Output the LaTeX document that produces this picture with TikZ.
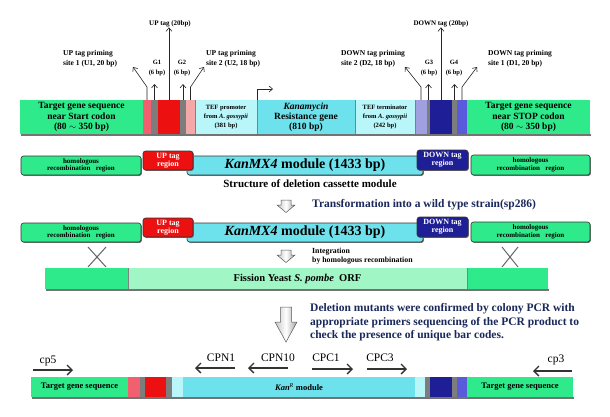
\documentclass[tikz,border=0pt]{standalone}
\usepackage{fontspec}
\setmainfont{Liberation Serif}
\usetikzlibrary{arrows.meta,shadows}
\definecolor{tgreen}{RGB}{46,234,138}
\definecolor{lgreen}{RGB}{160,246,196}
\definecolor{lred}{RGB}{240,96,110}
\definecolor{tred}{RGB}{236,16,16}
\definecolor{lpink}{RGB}{245,168,168}
\definecolor{lcyan}{RGB}{184,246,250}
\definecolor{tcyan}{RGB}{110,226,236}
\definecolor{lavender}{RGB}{160,160,224}
\definecolor{navy}{RGB}{30,30,150}
\definecolor{mblue}{RGB}{90,90,220}
\definecolor{stripe}{RGB}{125,125,125}
\definecolor{notecol}{RGB}{26,40,90}
\begin{document}
\begin{tikzpicture}[x=1pt,y=-1pt,
  seg/.style={inner sep=0pt, outer sep=0pt, anchor=north west, align=center},
  tlab/.style={inner sep=0pt, anchor=west, align=left, font=\fontsize{7.5}{10}\selectfont\bfseries},
  glab/.style={inner sep=0pt, align=center, font=\fontsize{6.5}{10}\selectfont\bfseries},
  tarrow/.style={draw=black!85, line width=0.6pt, -{Straight Barb[length=3.5pt,width=6pt]}},
  hbox/.style={draw=black!80, rounded corners=2.5pt, line width=0.6pt, inner sep=0pt, outer sep=0pt,
     anchor=north west, align=center, drop shadow={shadow xshift=0.9pt, shadow yshift=-0.9pt, fill=black!55, opacity=1}},
  hfont/.style={font=\fontsize{7}{7.5}\selectfont\bfseries},
  tagfont/.style={font=\fontsize{8}{8}\selectfont\bfseries, text=white},
  kanfont/.style={font=\fontsize{14}{14}\selectfont\bfseries},
  hollow/.style={draw=gray!70!black, line width=0.5pt, left color=gray!45, right color=gray!75, middle color=white},
  primer/.style={draw=black!80, line width=1.3pt, -{Straight Barb[length=5pt,width=10pt,line width=1.3pt]}},
  plab/.style={inner sep=0pt, font=\fontsize{11.5}{12}\selectfont},
  note/.style={inner sep=0pt, text=notecol, font=\fontsize{11.5}{13.5}\selectfont\bfseries, align=left},
  barfont/.style={font=\fontsize{9.5}{10.5}\selectfont\bfseries},
  teffont/.style={font=\fontsize{6.5}{9}\selectfont\bfseries},
  bfont/.style={font=\fontsize{8.5}{9}\selectfont\bfseries}
]
\useasboundingbox (0,0) rectangle (610,416);
\fill[white] (0,0) rectangle (610,416);

% ---------------- top bar ----------------
\fill[black!55] (21,134) rectangle (591,136);
\node[seg, fill=tgreen, minimum width=123, minimum height=34, barfont] (a1) at (20,100) {Target gene sequence\\near Start codon\\(80 $\sim$ 350 bp)};
\node[seg, fill=lred, minimum width=8, minimum height=34] (a2) at (143,100) {};
\node[seg, fill=stripe, minimum width=7, minimum height=34] (a3) at (151,100) {};
\node[seg, fill=tred, minimum width=22, minimum height=34] (a4) at (158,100) {};
\node[seg, fill=stripe, minimum width=6, minimum height=34] (a5) at (180,100) {};
\node[seg, fill=lpink, minimum width=9, minimum height=34] (a6) at (186,100) {};
\node[seg, fill=lcyan, minimum width=62, minimum height=34, teffont] (a7) at (195,100) {TEF promoter\\from \textit{A. gossypii}\\(381 bp)};
\node[seg, fill=tcyan, minimum width=98, minimum height=34, font=\fontsize{9.5}{10}\selectfont\bfseries] (a8) at (257,100) {\textit{Kanamycin}\\Resistance gene\\(810 bp)};
\node[seg, fill=lcyan, minimum width=60, minimum height=34, teffont] (a9) at (355,100) {TEF terminator\\from \textit{A. gossypii}\\(242 bp)};
\node[seg, fill=lavender, minimum width=12, minimum height=34] (a10) at (415,100) {};
\node[seg, fill=stripe, minimum width=3, minimum height=34] (a11) at (427,100) {};
\node[seg, fill=navy, minimum width=22, minimum height=34] (a12) at (430,100) {};
\node[seg, fill=stripe, minimum width=5, minimum height=34] (a13) at (452,100) {};
\node[seg, fill=mblue, minimum width=10, minimum height=34] (a14) at (457,100) {};
\node[seg, fill=tgreen, minimum width=123, minimum height=34, barfont] (a15) at (467,100) {Target gene sequence\\near STOP codon\\(80 $\sim$ 350 bp)};
\draw[gray, line width=0.8pt] (a8.north west) -- (a8.south west) (a9.north west) -- (a9.south west) (a9.north east) -- (a9.south east) (a7.north west) -- (a7.south west);

% labels above
\node[tlab] (lu1) at (63,59) {UP tag priming\\site 1 (U1, 20 bp)};
\node[tlab] (lu2) at (206,59) {UP tag priming\\site 2 (U2, 18 bp)};
\node[tlab] (ld2) at (341,59) {DOWN tag priming\\site 2 (D2, 18 bp)};
\node[tlab] (ld1) at (488,59) {DOWN tag priming\\site 1 (D1, 20 bp)};
\node[glab] (lg1) at (157,68) {G1\\(6 bp)};
\node[glab] (lg2) at (182,68) {G2\\(6 bp)};
\node[glab] (lg3) at (429,68) {G3\\(6 bp)};
\node[glab] (lg4) at (454,68) {G4\\(6 bp)};
\node[glab, font=\fontsize{7}{8}\selectfont\bfseries] (lup) at (170,24) {UP tag (20bp)};
\node[glab, font=\fontsize{7}{8}\selectfont\bfseries] (ldn) at (441,24) {DOWN tag (20bp)};
\coordinate (u1tip) at (133,67);
\coordinate (u2tip) at (204,67);
\coordinate (d2tip) at (405,67);
\coordinate (d1tip) at (477,67);

\draw[tarrow] (a2.north) -- ++(0,-13) -- (u1tip);
\draw[tarrow] (a3.north) -- ++(0,-16);
\draw[tarrow] (a4.north) -- (a4.north |- lup.south);
\draw[tarrow] (a5.north) -- ++(0,-16);
\draw[tarrow] (a6.north) -- ++(0,-13) -- (u2tip);
\draw[tarrow] (a10.north) -- ++(0,-13) -- (d2tip);
\draw[tarrow] (a11.north) -- ++(0,-16);
\draw[tarrow] (a12.north) -- (a12.north |- ldn.south);
\draw[tarrow] (a13.north) -- ++(0,-16);
\draw[tarrow] (a14.north) -- ++(0,-13) -- (d1tip);
\draw[tarrow] (a8.north west) -- ++(0,-11) -- ++(16,0);

% ---------------- module row 1 ----------------
\node[hbox, fill=tgreen, minimum width=120, minimum height=19, hfont] (h1) at (21,156) {homologous\\recombination~~~region};
\node[hbox, fill=tcyan, minimum width=236, minimum height=19, kanfont] (k1) at (187,156) {\textit{KanMX4} module (1433 bp)};
\node[hbox, fill=tred, minimum width=50, minimum height=19, tagfont] (u1) at (143,151) {UP tag\\region};
\node[hbox, fill=navy, minimum width=51, minimum height=20, tagfont] (d1) at (417,150) {DOWN tag\\region};
\node[hbox, fill=tgreen, minimum width=119, minimum height=20, hfont] (h2) at (471,155) {homologous\\recombination~~~region};
\node[inner sep=0pt, font=\fontsize{11}{12}\selectfont\bfseries] (cap) at (310,184) {Structure of deletion cassette module};

% hollow arrow 1
\path[hollow] (281,200) -- (291,200) -- (291,205) -- (295,205) -- (286,212.5) -- (277,205) -- (281,205) -- cycle;
\node[note, anchor=west] (tr) at (312,205) {Transformation into a wild type strain(sp286)};

% ---------------- module row 2 ----------------
\node[hbox, fill=tgreen, minimum width=120, minimum height=19, hfont] (h3) at (21,223) {homologous\\recombination~~~region};
\node[hbox, fill=tcyan, minimum width=236, minimum height=19, kanfont] (k2) at (187,223) {\textit{KanMX4} module (1433 bp)};
\node[hbox, fill=tred, minimum width=50, minimum height=19, tagfont] (u2) at (143,218) {UP tag\\region};
\node[hbox, fill=navy, minimum width=51, minimum height=20, tagfont] (d2) at (417,217) {DOWN tag\\region};
\node[hbox, fill=tgreen, minimum width=119, minimum height=20, hfont] (h4) at (471,222) {homologous\\recombination~~~region};

% hollow arrow 2
\path[hollow] (281,250) -- (291,250) -- (291,255) -- (295,255) -- (286,262.5) -- (277,255) -- (281,255) -- cycle;
\node[inner sep=0pt, anchor=west, align=left, font=\fontsize{7.8}{9}\selectfont\bfseries] (integ) at (312,256.5) {Integration\\by homologous recombination};

% crosses
\draw[gray!80!black, line width=1pt] (88,247) -- (106,267) (106,247) -- (88,267);
\draw[gray!80!black, line width=1pt] (502,247) -- (518,267) (518,247) -- (502,267);

% ---------------- yeast ORF ----------------
\fill[black!55] (46,289) rectangle (549,291);
\node[seg, fill=tgreen, minimum width=83, minimum height=21] (y1) at (45,268) {};
\node[seg, fill=lgreen, minimum width=339, minimum height=21, font=\fontsize{10.5}{11}\selectfont\bfseries] (y2) at (128,268) {Fission Yeast \textit{S. pombe}~ ORF};
\node[seg, fill=tgreen, minimum width=81, minimum height=21] (y3) at (467,268) {};
\draw[gray, line width=0.8pt] (y2.north west) -- (y2.south west) (y2.north east) -- (y2.south east);

% big arrow
\path[hollow] (280.5,307) -- (291.5,307) -- (291.5,322) -- (297,322) -- (286,342) -- (275,322) -- (280.5,322) -- cycle;
\node[note, anchor=north west] (del) at (310,303.5) {Deletion mutants were confirmed by colony PCR with\\appropriate primers sequencing of the PCR product to\\check the presence of unique bar codes.};

% ---------------- bottom bar ----------------
\fill[black!55] (32,397) rectangle (574,399);
\node[seg, fill=tgreen, minimum width=97, minimum height=20, bfont] (b1) at (31,377) {Target gene sequence};
\node[seg, fill=lred, minimum width=12, minimum height=20] (b2) at (128,377) {};
\node[seg, fill=stripe, minimum width=5, minimum height=20] (b3) at (140,377) {};
\node[seg, fill=tred, minimum width=21, minimum height=20] (b4) at (145,377) {};
\node[seg, fill=stripe, minimum width=6, minimum height=20] (b5) at (166,377) {};
\node[seg, fill=lcyan, minimum width=11, minimum height=20] (b6) at (172,377) {};
\node[seg, fill=tcyan, minimum width=232, minimum height=20, bfont] (b7) at (183,377) {\textit{Kan}$^{\mathit{R}}$ module};
\node[seg, fill=lcyan, minimum width=10, minimum height=20] (b8) at (415,377) {};
\node[seg, fill=stripe, minimum width=5, minimum height=20] (b9) at (425,377) {};
\node[seg, fill=navy, minimum width=22, minimum height=20] (b10) at (430,377) {};
\node[seg, fill=stripe, minimum width=5, minimum height=20] (b11) at (452,377) {};
\node[seg, fill=mblue, minimum width=10, minimum height=20] (b12) at (457,377) {};
\node[seg, fill=tgreen, minimum width=106, minimum height=20, bfont] (b13) at (467,377) {Target gene sequence};

% primers
\node[plab] (pcp5) at (48,361) {cp5};
\node[plab] (pcpn1) at (221,358) {CPN1};
\node[plab] (pcpn10) at (278,358) {CPN10};
\node[plab] (pcpc1) at (326,358) {CPC1};
\node[plab] (pcpc3) at (380,358) {CPC3};
\node[plab] (pcp3) at (556,360) {cp3};
\coordinate (s5) at (33,370);   \coordinate (e5) at (73,370);
\coordinate (sn1) at (235,368); \coordinate (en1) at (195,368);
\coordinate (sn10) at (288,368); \coordinate (en10) at (248,368);
\coordinate (sc1) at (312,369); \coordinate (ec1) at (353,369);
\coordinate (sc3) at (367,369); \coordinate (ec3) at (407,369);
\coordinate (s3) at (572,371);  \coordinate (e3) at (533,371);
\draw[primer] (s5) -- (e5);
\draw[primer] (sn1) -- (en1);
\draw[primer] (sn10) -- (en10);
\draw[primer] (sc1) -- (ec1);
\draw[primer] (sc3) -- (ec3);
\draw[primer] (s3) -- (e3);
\end{tikzpicture}
\end{document}
